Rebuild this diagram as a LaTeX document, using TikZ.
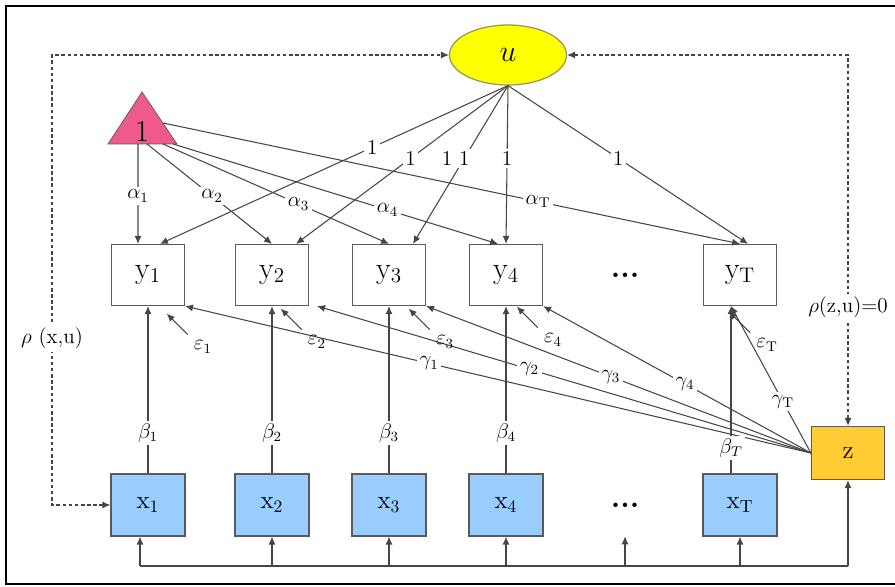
\documentclass[tikz,border=0pt]{standalone}
\usepackage{amsmath,amssymb}
\usetikzlibrary{arrows.meta,shapes.geometric}
\definecolor{lineGray}{RGB}{70,70,70}
\definecolor{boxGray}{RGB}{90,90,90}
\definecolor{xBlue}{RGB}{153,204,255}
\definecolor{zGold}{RGB}{255,204,51}
\definecolor{uYellow}{RGB}{255,255,0}
\definecolor{uEdge}{RGB}{150,150,90}
\definecolor{triPink}{RGB}{238,90,140}
\tikzset{
  obs/.style={draw=boxGray, line width=0.7pt, minimum width=1.46cm, minimum height=1.22cm, inner sep=0pt, font=\LARGE},
  cov/.style={obs, fill=xBlue, minimum width=1.48cm, minimum height=1.24cm, font=\Large},
  lbl/.style={fill=white, inner sep=1.5pt, font=\large},
  conn/.style={->, draw=lineGray, line width=0.6pt},
  corr/.style={<->, draw=lineGray, line width=0.6pt, dash pattern=on 2pt off 1.5pt},
}
\begin{document}
\begin{tikzpicture}[>={Latex[length=4.5pt,width=4pt]}]
  \useasboundingbox (0,0) rectangle (17.9,11.72);
  \draw[line width=1.2pt] (18,11.6) -- (0.12,11.6) -- (0.12,0.04) -- (18,0.04);

  % latent factor and constant
  \node[ellipse, draw=uEdge, fill=uYellow, line width=0.7pt, minimum width=2.34cm, minimum height=1.2cm, font=\LARGE] (u) at (10.16,10.62) {$u$};
  \draw[draw=boxGray, fill=triPink] (2.84,9.88) -- (3.54,8.84) -- (2.16,8.84) -- cycle;
  \node[font=\LARGE] (one) at (2.84,9.1) {1};
  \coordinate (a1) at (2.76,8.84);
  \coordinate (a2) at (2.94,8.84);
  \coordinate (a3) at (3.26,8.84);
  \coordinate (a4) at (3.46,8.84);
  \coordinate (aT) at (3.26,9.26);

  % outcomes
  \node[obs] (y1) at (2.96,6.22) {y$_1$};
  \node[obs] (y2) at (5.44,6.22) {y$_2$};
  \node[obs] (y3) at (7.78,6.22) {y$_3$};
  \node[obs] (y4) at (10.12,6.22) {y$_4$};
  \node[font=\LARGE\bfseries] (ydots) at (12.5,6.22) {...};
  \node[obs] (yT) at (14.8,6.22) {y$_\mathrm{T}$};

  % covariates
  \node[cov] (x1) at (2.96,1.62) {x$_1$};
  \node[cov] (x2) at (5.44,1.62) {x$_2$};
  \node[cov] (x3) at (7.78,1.62) {x$_3$};
  \node[cov] (x4) at (10.12,1.62) {x$_4$};
  \node[minimum height=1.24cm, font=\LARGE\bfseries] (xdots) at (12.5,1.62) {...};
  \node[cov] (xT) at (14.8,1.62) {x$_\mathrm{T}$};
  \node[obs, fill=zGold, minimum height=1.06cm, font=\Large] (z) at (16.96,2.66) {z};

  % intercepts
  \draw[conn] (a1) -- node[lbl,pos=0.52]{$\alpha_1$} ([xshift=-0.2cm]y1.north);
  \draw[conn] (a2) -- node[lbl,pos=0.52]{$\alpha_2$} (y2.north);
  \draw[conn] (a3) -- node[lbl,pos=0.6]{$\alpha_3$} (y3.north);
  \draw[conn] (a4) -- node[lbl,pos=0.66]{$\alpha_4$} ([xshift=-0.16cm]y4.north);
  \draw[conn] (aT) -- node[lbl,pos=0.65]{$\alpha_\mathrm{T}$} (yT.north);

  % loadings
  \draw[conn] (u.south) -- node[lbl,pos=0.39]{1} ([xshift=0.24cm]y1.north);
  \draw[conn] (u.south) -- node[lbl,pos=0.46]{1} ([xshift=0.48cm]y2.north);
  \draw[conn] (u.south) -- node[lbl,pos=0.46]{1} ([xshift=0.48cm]y3.north);
  \draw[conn] (u.south) -- node[lbl,pos=0.46]{1} (y4.north);
  \draw[conn] (u.south) -- node[lbl,pos=0.46]{1} ([xshift=0.16cm]yT.north);
  \node[font=\large] (oneextra) at (8.94,8.56) {1};

  % effects of z
  \draw[conn] (z.west) -- node[lbl,pos=0.61]{$\gamma_1$} (y1.south east);
  \draw[conn] (z.west) -- node[lbl,pos=0.57]{$\gamma_2$} ([xshift=0.16cm]y2.south east);
  \draw[conn] (z.west) -- node[lbl,pos=0.52]{$\gamma_3$} (y3.south east);
  \draw[conn] (z.west) -- node[lbl,pos=0.47]{$\gamma_4$} (y4.south east);
  \draw[conn] (z.west) -- node[lbl,pos=0.35]{$\gamma_\mathrm{T}$} ([xshift=-0.18cm]yT.south);

  % effects of x
  \draw[conn] (x1.north) -- node[lbl,pos=0.24]{$\beta_1$} (y1.south);
  \draw[conn] (x2.north) -- node[lbl,pos=0.24]{$\beta_2$} (y2.south);
  \draw[conn] (x3.north) -- node[lbl,pos=0.24]{$\beta_3$} (y3.south);
  \draw[conn] (x4.north) -- node[lbl,pos=0.24]{$\beta_4$} (y4.south);
  \draw[conn] ([xshift=-0.18cm]xT.north) -- node[lbl,pos=0.15]{$\beta_T$} ([xshift=-0.18cm]yT.south);

  % errors
  \node[font=\large] (e1) at (4.06,4.78) {$\varepsilon_1$};
  \node[font=\large] (e2) at (6.34,4.88) {$\varepsilon_2$};
  \node[font=\large] (e3) at (8.9,4.88) {$\varepsilon_3$};
  \node[font=\large] (e4) at (11.06,4.92) {$\varepsilon_4$};
  \node[font=\large] (eT) at (15.34,4.82) {$\varepsilon_\mathrm{T}$};
  \foreach \e in {e1,e2,e3,e4,eT}
    \draw[conn] (\e.north west) -- ++(-0.42,0.42);

  % common input
  \coordinate (bus) at (0,0.4);
  \draw[draw=lineGray, line width=0.6pt] ([xshift=-0.16cm]x1.south |- bus) -- (z.south |- bus);
  \draw[conn] ([xshift=-0.16cm]x1.south |- bus) -- ([xshift=-0.16cm]x1.south);
  \foreach \n in {x2,x3,x4,xdots,xT,z}
    \draw[conn] (\n.south |- bus) -- (\n.south);

  % correlations
  \coordinate (lx) at (1.04,0);
  \draw[corr] (x1.west) -- (x1.west -| lx) -- node[lbl,pos=0.37]{$\rho$ (x,u)} (lx |- u.west) -- (u.west);
  \draw[corr] (u.east) -| node[lbl,pos=0.84]{$\rho$(z,u)=0} (z.north);
\end{tikzpicture}
\end{document}
